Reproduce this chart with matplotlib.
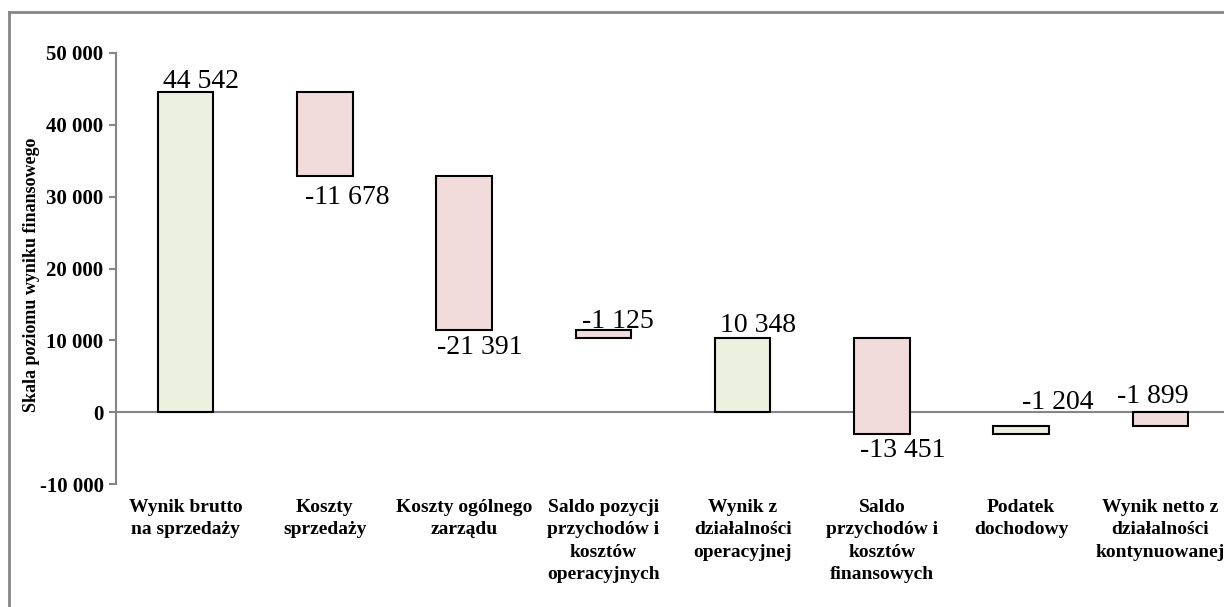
import matplotlib.pyplot as plt
from matplotlib.lines import Line2D

# Data
categories = ["Wynik brutto\nna sprzedaży", "Koszty\nsprzedaży",
              "Koszty ogólnego\nzarządu",
              "Saldo pozycji\nprzychodów i\nkosztów\noperacyjnych",
              "Wynik z\ndziałalności\noperacyjnej",
              "Saldo\nprzychodów i\nkosztów\nfinansowych",
              "Podatek\ndochodowy",
              "Wynik netto z\ndziałalności\nkontynuowanej"]
# signed change of each step (None = subtotal bar drawn from zero)
changes = [44542, -11678, -21391, -1125, None, -13451, 1204, None]
# value labels as printed on the chart
labels = [44542, -11678, -21391, -1125, 10348, -13451, -1204, -1899]
yticks = [-10000, 0, 10000, 20000, 30000, 40000, 50000]

# label placement: (edge, dx px, dy px)
label_pos = [("top", 15, 4), ("bottom", 22, -28), ("bottom", 16, -24),
             ("top", 14, 2), ("top", 15, 6), ("bottom", 21, -23),
             ("top", 37, 17), ("top", -8, 9)]

green = "#EBF1DE"
pink = "#F2DCDB"
grey = "#868686"
serif = "Liberation Serif"


def fmt(v):
    s = f"{abs(v):,}".replace(",", " ")
    return "-" + s if v < 0 else s


# build waterfall lows/highs from the steps
lows, highs, colors = [], [], []
running = 0
for ch in changes:
    if ch is None:
        lo, hi = sorted([0, running])
        colors.append(green if running >= 0 else pink)
    else:
        lo, hi = sorted([running, running + ch])
        running += ch
        colors.append(green if ch >= 0 else pink)
    lows.append(lo)
    highs.append(hi)

fig = plt.figure(figsize=(12.24, 6.07), dpi=100)
ax = fig.add_axes([116 / 1224, 1 - 484 / 607, 1114 / 1224, 431 / 607])

x = list(range(len(categories)))
heights = [h - l for l, h in zip(lows, highs)]
ax.bar(x, heights, bottom=lows, width=0.4, color=colors,
       edgecolor="black", linewidth=1.5, zorder=3)

ax.axhline(0, color=grey, linewidth=1.5, zorder=2)

for i, v in enumerate(labels):
    edge, dx, dy = label_pos[i]
    y = highs[i] if edge == "top" else lows[i]
    ax.annotate(fmt(v), (i, y), xytext=(dx, dy), textcoords="offset pixels",
                ha="center", va="baseline", fontsize=20, family=serif,
                zorder=4)

ax.set_xlim(-0.5, 7.5)
ax.set_ylim(-10000, 50000)
ax.set_yticks(yticks)
ax.set_yticklabels([fmt(t) for t in yticks], fontsize=15, fontweight="bold",
                   family=serif)
ax.set_xticks(x)
ax.set_xticklabels(categories, fontsize=14, fontweight="bold", family=serif,
                   linespacing=1.4)
ax.tick_params(axis="x", length=0, pad=11)
ax.tick_params(axis="y", length=5, width=1.5, color=grey, pad=4)

for side in ["top", "right", "bottom"]:
    ax.spines[side].set_visible(False)
ax.spines["left"].set_color(grey)
ax.spines["left"].set_linewidth(1.5)

ax.set_ylabel("Skala poziomu wyniku finansowego", fontsize=13,
              fontweight="bold", family=serif)
ax.yaxis.set_label_coords(-0.068, 0.485)

# outer chart-area frame (cut off on right and bottom)
fig.add_artist(Line2D([9 / 1224, 1.0], [1 - 12 / 607, 1 - 12 / 607],
                      transform=fig.transFigure, color=grey, linewidth=2))
fig.add_artist(Line2D([9 / 1224, 9 / 1224], [0.0, 1 - 12 / 607],
                      transform=fig.transFigure, color=grey, linewidth=2))

fig.savefig("out.png", dpi=100)
